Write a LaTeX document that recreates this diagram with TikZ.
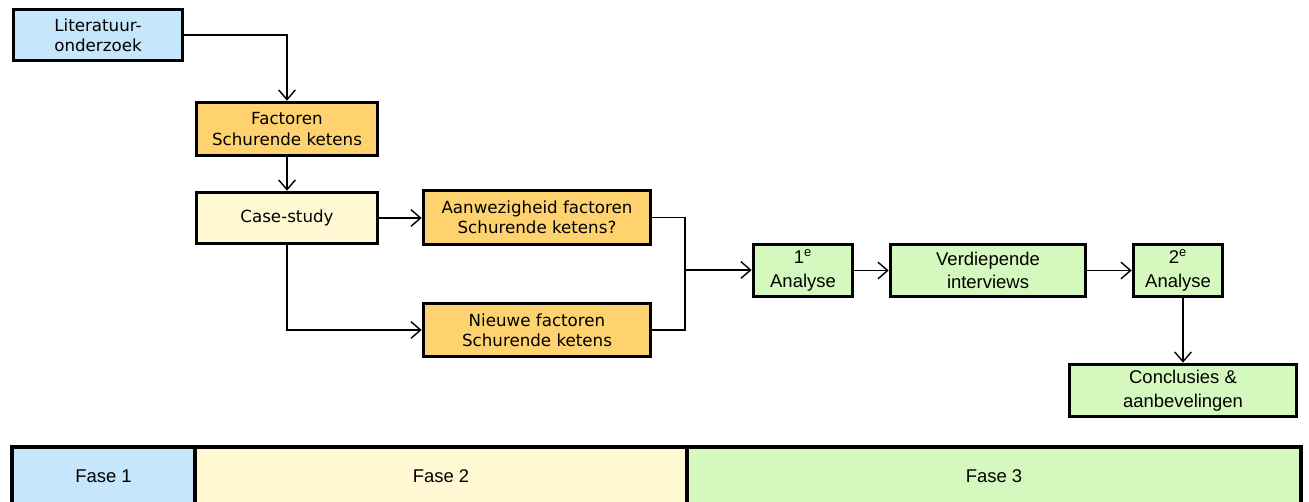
\documentclass[tikz,border=0pt]{standalone}
\usepackage{fontspec}
\setmainfont{Liberation Sans}
\newfontfamily\verdana{DejaVu Sans}
\usetikzlibrary{arrows.meta}
\definecolor{litblue}{RGB}{197,230,251}
\definecolor{caseyellow}{RGB}{255,248,210}
\definecolor{factorange}{RGB}{255,210,112}
\definecolor{anagreen}{RGB}{212,248,190}
\begin{document}
\begin{tikzpicture}[x=0.02cm, y=-0.02cm,
    stepbox/.style={ rectangle, draw=black, line width=2.1pt, align=center, inner sep=0pt, },
    vtext/.style={ font=\verdana\fontsize{9.5}{11.5}\selectfont, },
    atext/.style={ font=\fontsize{10.5}{13.5}\selectfont, },
    arr/.style={ line width=0.8pt, -{Straight Barb[length=5.5pt,width=9.5pt]}, },
    fasebox/.style={ rectangle, draw=black, line width=2.1pt, inner sep=0pt, minimum height=1.3cm, text height=0.26cm, text depth=0.14cm, font=\fontsize{10.5}{12}\selectfont, } ]
            \useasboundingbox (0, 0) rectangle (1309, 501);

            \node[stepbox, vtext, fill=litblue, minimum width=3.38cm, minimum height=1.02cm] (lit) at (98, 35) {Literatuur-\\onderzoek};
            \node[stepbox, vtext, fill=factorange, minimum width=3.62cm, minimum height=1.06cm] (fact) at (287, 129) {Factoren\\Schurende ketens};
            \node[stepbox, vtext, fill=caseyellow, minimum width=3.62cm, minimum height=1.02cm] (case) at (287, 218) {Case-study};
            \node[stepbox, vtext, fill=factorange, minimum width=4.54cm, minimum height=1.08cm] (aanw) at (537, 217.5) {Aanwezigheid factoren\\Schurende ketens?};
            \node[stepbox, vtext, fill=factorange, minimum width=4.54cm, minimum height=1.06cm] (nieuw) at (537, 330) {Nieuwe factoren\\Schurende ketens};
            \node[stepbox, atext, fill=anagreen, minimum width=1.98cm, minimum height=1.04cm] (ana1) at (803, 270.5) {1\textsuperscript{e}\\Analyse};
            \node[stepbox, atext, fill=anagreen, minimum width=3.9cm, minimum height=1.04cm] (verd) at (988, 270.5) {Verdiepende\\interviews};
            \node[stepbox, atext, fill=anagreen, minimum width=1.78cm, minimum height=1.04cm] (ana2) at (1178, 270.5) {2\textsuperscript{e}\\Analyse};
            \node[stepbox, atext, fill=anagreen, minimum width=4.54cm, minimum height=1.04cm] (concl) at (1183, 390.5) {Conclusies \&\\aanbevelingen};
            \coordinate (merge) at (685, 270);

            % Phases
            \node[fasebox, fill=litblue, minimum width=3.66cm] (fase1) at (103.5, 479.5) {Fase 1};
            \node[fasebox, fill=caseyellow, minimum width=9.84cm] (fase2) at (441, 479.5) {Fase 2};
            \node[fasebox, fill=anagreen, minimum width=12.28cm] (fase3) at (994, 479.5) {Fase 3};

            % Edges
            \draw[arr] (lit.east) -| (fact.north);
            \draw[arr] (fact) -- (case);
            \draw[arr] (case.east) -- (case.east -| aanw.west);
            \draw[arr] (case.south) |- (nieuw.west);
            \draw[line width=0.8pt] (aanw.east) -| (merge) |- (nieuw.east);
            \draw[arr] (merge) -- (merge -| ana1.west);
            \draw[arr] (ana1) -- (verd);
            \draw[arr] (verd) -- (ana2);
            \draw[arr] (ana2.south -| concl.north) -- (concl.north);
        \end{tikzpicture}
\end{document}
